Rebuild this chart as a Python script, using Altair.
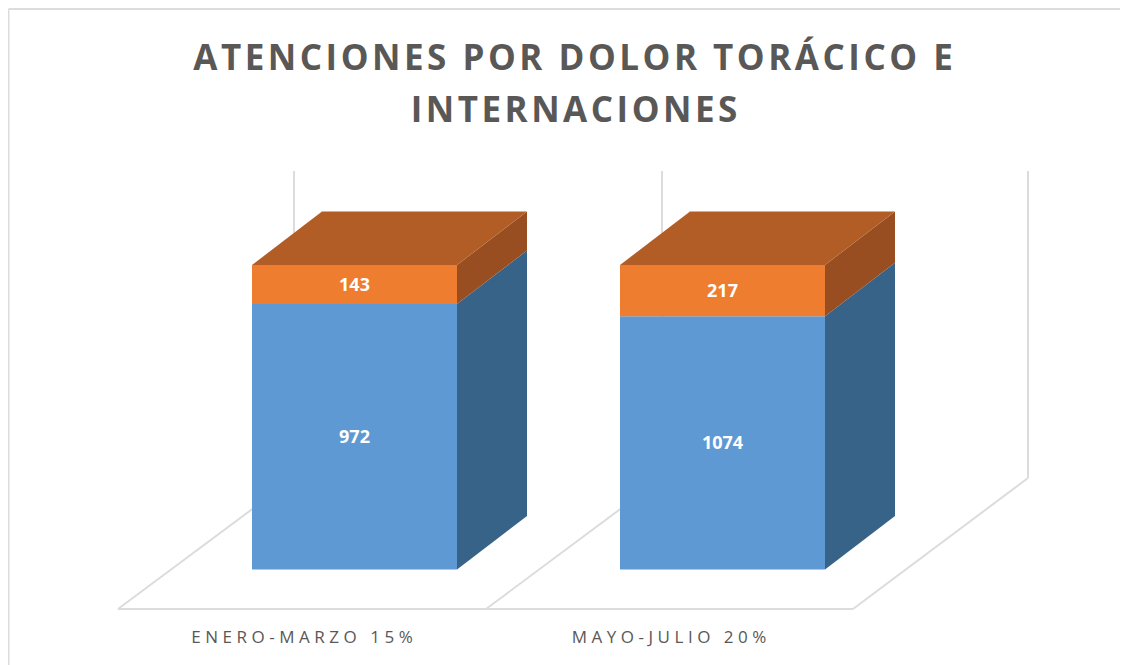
import altair as alt
import pandas as pd

# ---- values ----
categories = ["ENERO-MARZO 15%", "MAYO-JULIO 20%"]
blue_values = [972, 1074]
orange_values = [143, 217]
title_lines = ["ATENCIONES POR DOLOR TORÁCICO E", "INTERNACIONES"]

# ---- layout (canvas pixels of the reference) ----
PAGE = 8
W, H = 1114, 657
BASE_Y, TOP_Y = 569.5, 265
PX_PER_SHARE = (BASE_Y - TOP_Y) / 100
BAR_LEFT = [252, 620]
BAR_W = 205
DEPTH_X, DEPTH_Y = 70, 53.5
DS = DEPTH_Y / PX_PER_SHARE


def s(y_px):
    """canvas pixel row -> share units of the y scale"""
    return (BASE_Y - y_px) / PX_PER_SHARE


x_scale = alt.Scale(domain=[PAGE, PAGE + W], nice=False, zero=False)
y_scale = alt.Scale(domain=[s(PAGE + H), s(PAGE)], nice=False, zero=False)
X = lambda f="x": alt.X(f, type="quantitative", scale=x_scale, axis=None)
Y = lambda f="y": alt.Y(f, type="quantitative", scale=y_scale, axis=None)

BLUE, BLUE_SIDE = "#5F99D3", "#376388"
ORANGE, ORANGE_SIDE, ORANGE_TOP = "#EE7D2F", "#984E20", "#B35D26"
GRID = "#DCDCDC"
INK = "#595856"

front, side, top, labels = [], [], [], []
for i, cat in enumerate(categories):
    total = blue_values[i] + orange_values[i]
    b = blue_values[i] / total * 100
    x0 = BAR_LEFT[i]
    x1 = x0 + BAR_W
    front += [
        dict(x=x0, x2=x1, y=0, y2=b, c=BLUE),
        dict(x=x0, x2=x1, y=b, y2=100, c=ORANGE),
    ]
    for k, (lo, hi, col) in enumerate([(0, b, BLUE_SIDE), (b, 100, ORANGE_SIDE)]):
        side += [
            dict(id=f"{i}{k}", x=x1, y=lo, y2=hi, c=col),
            dict(id=f"{i}{k}", x=x1 + DEPTH_X, y=lo + DS, y2=hi + DS, c=col),
        ]
    top += [
        dict(id=str(i), y=100, x=x0, x2=x1, c=ORANGE_TOP),
        dict(id=str(i), y=100 + DS, x=x0 + DEPTH_X, x2=x1 + DEPTH_X, c=ORANGE_TOP),
    ]
    labels += [
        dict(x=(x0 + x1) / 2, y=b / 2, t=str(blue_values[i])),
        dict(x=(x0 + x1) / 2, y=(b + 100) / 2, t=str(orange_values[i])),
    ]

# chart frame and 3D floor / wall lines
FLOOR_Y, BACK_Y, WALL_TOP = 609, 478, 171
FLOOR_X = [118, 486, 853]
WALL_X = [294, 662, 1028]
segs = [((8.5, 9), (8.5, 665)), ((8.5, 9), (1120, 9)), ((FLOOR_X[0], FLOOR_Y), (FLOOR_X[2], FLOOR_Y))]
for fx, wx in zip(FLOOR_X, WALL_X):
    segs.append(((fx, FLOOR_Y), (wx, BACK_Y)))
    segs.append(((wx, BACK_Y), (wx, WALL_TOP)))
lines = []
for n, (p, q) in enumerate(segs):
    lines += [dict(id=n, x=p[0], y=s(p[1])), dict(id=n, x=q[0], y=s(q[1]))]

HAIR, THIN = "\u200a", "\u2009"

cat_df = pd.DataFrame(
    [dict(x=c_x, y=s(638), t=(THIN + HAIR).join(c)) for c, c_x in zip(categories, [302, 669])]
)
title_df = pd.DataFrame(
    [dict(x=573, y=s(59), t=HAIR.join(title_lines[0])), dict(x=574, y=s(111), t=HAIR.join(title_lines[1]))]
)

color = alt.Color("c:N", scale=None, legend=None)

grid_layer = alt.Chart(pd.DataFrame(lines)).mark_line(color=GRID, strokeWidth=2, clip=False).encode(
    x=X(), y=Y(), detail="id:N"
)
front_layer = alt.Chart(pd.DataFrame(front)).mark_rect().encode(
    x=X(), x2="x2:Q", y=Y(), y2="y2:Q", color=color
)
side_layer = alt.Chart(pd.DataFrame(side)).mark_area().encode(
    x=X(), y=Y(), y2="y2:Q", color=color, detail="id:N"
)
top_layer = alt.Chart(pd.DataFrame(top)).mark_area(orient="horizontal").encode(
    y=Y(), x=X(), x2="x2:Q", color=color, detail="id:N"
)
value_text = alt.Chart(pd.DataFrame(labels)).mark_text(
    color="white", font="Open Sans", fontWeight="bold", fontSize=18, baseline="middle", dy=1.5
).encode(x=X(), y=Y(), text="t:N")
cat_text = alt.Chart(cat_df).mark_text(
    color=INK, font="Open Sans", fontSize=17, baseline="middle"
).encode(x=X(), y=Y(), text="t:N")
title_text = alt.Chart(title_df).mark_text(
    color=INK, font="Open Sans", fontWeight="bold", fontSize=35, baseline="middle"
).encode(x=X(), y=Y(), text="t:N")

chart = (
    alt.layer(grid_layer, side_layer, top_layer, front_layer, value_text, cat_text, title_text)
    .properties(width=W, height=H, padding=0, autosize=alt.AutoSizeParams(type="none"), background="white")
    .configure_view(stroke=None)
)
chart.save("out.html", embed_options={"renderer": "svg", "actions": False})
